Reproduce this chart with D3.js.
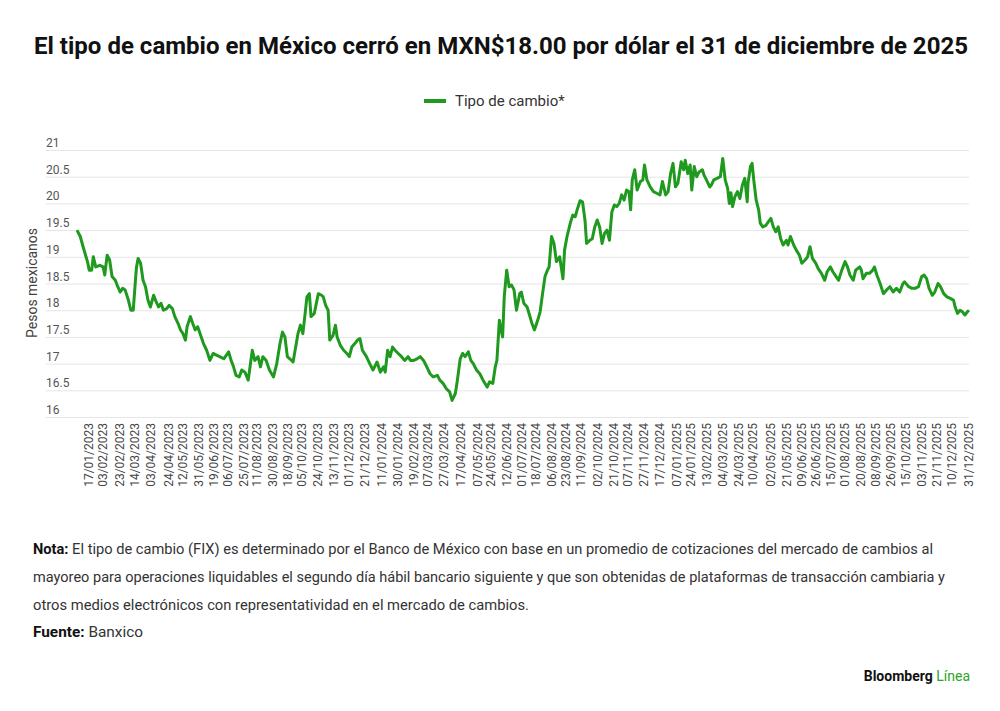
<!DOCTYPE html>
<html>
<head>
<meta charset="utf-8">
<script src="https://cdn.jsdelivr.net/npm/d3@7"></script>
<style>
  body { margin: 0; background: #fff; }
  svg { display: block; font-family: Roboto, "Noto Sans", sans-serif; }
</style>
</head>
<body>
<svg id="chart" width="1000" height="711"></svg>
<script>
// Tipo de cambio FIX (MXN por USD)
var fechas2023 = ['01-02','01-06','01-10','01-15','01-17','01-20','01-22','01-25','01-30','02-03','02-05','02-08','02-11','02-14','02-18','02-21','02-24','02-27','03-02','03-06','03-09','03-12','03-15','03-16','03-18','03-21','03-24','03-27','03-30','04-02','04-06','04-09','04-12','04-15','04-18','04-22','04-25','04-29','05-02','05-06','05-09','05-12','05-15','05-17','05-21','05-24','05-27','05-30','06-02','06-06','06-10','06-14','06-18','06-22','06-26','07-01','07-07','07-10','07-13','07-16','07-20','07-23','07-27','07-31','08-05','08-08','08-12','08-15','08-18','08-22','08-26','08-31','09-04','09-08','09-11','09-14','09-17','09-20','09-24','09-28','09-30','10-03','10-06','10-09','10-11','10-14','10-16','10-20','10-23','10-25','10-29','10-31','11-03','11-06','11-08','11-12','11-15','11-17','11-21','11-25','11-29','12-02','12-05','12-09','12-12','12-15','12-18','12-23','12-27','12-31'];
var valores2023 = [19.50,19.38,19.16,18.90,18.75,18.75,19.00,18.81,18.84,18.81,18.66,19.03,18.94,18.63,18.56,18.44,18.34,18.41,18.38,18.19,18.00,18.00,18.63,18.81,18.97,18.88,18.56,18.44,18.19,18.06,18.28,18.16,18.06,18.13,18.00,18.03,18.09,18.03,17.88,17.75,17.63,17.56,17.44,17.69,17.88,17.75,17.63,17.69,17.56,17.38,17.25,17.06,17.19,17.16,17.13,17.09,17.22,17.06,16.94,16.78,16.75,16.88,16.84,16.69,17.25,17.06,17.13,16.94,17.13,17.06,16.88,16.75,17.00,17.38,17.59,17.50,17.13,17.09,17.03,17.38,17.56,17.72,17.56,17.97,18.25,18.31,17.88,17.94,18.16,18.31,18.28,18.25,18.09,18.00,17.44,17.53,17.72,17.50,17.34,17.25,17.19,17.13,17.31,17.38,17.44,17.47,17.25,17.13,17.00,16.88];

var fechas2024 = ['01-05','01-09','01-13','01-15','01-18','01-21','01-24','01-27','01-31','02-04','02-08','02-12','02-15','02-19','02-23','02-27','03-02','03-06','03-10','03-14','03-19','03-22','03-26','03-30','04-03','04-06','04-10','04-12','04-16','04-19','04-22','04-26','04-29','05-02','05-06','05-10','05-14','05-19','05-22','05-26','05-29','05-31','06-03','06-05','06-07','06-09','06-12','06-15','06-18','06-21','06-24','06-28','06-30','07-03','07-07','07-10','07-13','07-16','07-20','07-23','07-26','07-29','08-01','08-03','08-06','08-09','08-12','08-16','08-20','08-22','08-25','08-29','09-01','09-04','09-07','09-10','09-13','09-16','09-18','09-22','09-25','09-28','10-01','10-04','10-07','10-10','10-13','10-16','10-19','10-22','10-25','10-28','10-31','11-03','11-06','11-09','11-11','11-13','11-16','11-19','11-23','11-26','11-28','12-01','12-05','12-09','12-13','12-17','12-20','12-24','12-27','12-30'];
var valores2024 = [17.03,16.84,16.94,16.84,17.25,17.13,17.31,17.25,17.19,17.13,17.06,17.13,17.06,17.06,17.09,17.13,17.06,16.94,16.81,16.75,16.78,16.69,16.63,16.53,16.47,16.31,16.44,16.63,17.09,17.19,17.13,17.22,17.06,17.00,16.88,16.81,16.69,16.56,16.66,16.63,16.94,17.06,17.81,17.63,17.50,18.25,18.75,18.44,18.47,18.38,18.00,18.31,18.34,18.13,18.06,17.91,17.75,17.63,17.81,17.97,18.31,18.63,18.75,18.81,19.38,19.25,18.91,19.00,18.59,19.13,19.38,19.63,19.78,19.75,19.91,20.05,20.03,19.69,19.25,19.31,19.34,19.56,19.69,19.56,19.25,19.44,19.50,19.31,19.84,19.97,19.94,20.00,20.16,20.06,20.25,20.22,19.88,20.44,20.63,20.25,20.41,20.44,20.72,20.44,20.31,20.22,20.19,20.16,20.41,20.16,20.22,20.56];

var fechas2025 = ['01-02','01-05','01-08','01-12','01-15','01-17','01-20','01-23','01-25','01-28','01-31','02-03','02-07','02-09','02-12','02-16','02-18','02-21','02-25','03-01','03-04','03-07','03-10','03-12','03-14','03-16','03-19','03-22','03-25','03-28','03-31','04-03','04-04','04-07','04-09','04-11','04-14','04-17','04-19','04-22','04-26','04-29','05-02','05-05','05-08','05-11','05-14','05-17','05-21','05-23','05-26','05-30','06-02','06-06','06-09','06-13','06-16','06-19','06-22','06-26','06-29','07-03','07-07','07-10','07-14','07-17','07-21','07-24','07-28','08-01','08-04','08-07','08-11','08-14','08-19','08-21','08-23','08-27','08-31','09-04','09-06','09-09','09-13','09-17','09-21','09-25','09-29','10-03','10-07','10-11','10-13','10-18','10-22','10-26','10-30','11-03','11-06','11-09','11-12','11-16','11-19','11-23','11-26','11-30','12-04','12-08','12-12','12-14','12-17','12-20','12-23','12-26','12-29','12-31'];
var valores2025 = [20.75,20.31,20.38,20.78,20.63,20.81,20.56,20.72,20.25,20.69,20.50,20.59,20.63,20.53,20.44,20.31,20.34,20.44,20.47,20.50,20.84,20.44,20.28,20.00,20.20,19.94,20.13,20.22,20.09,20.34,20.47,20.03,20.38,20.69,20.75,20.44,20.06,19.88,19.63,19.56,19.59,19.66,19.72,19.56,19.47,19.56,19.34,19.22,19.31,19.22,19.38,19.22,19.13,19.03,18.88,18.94,19.00,19.19,18.97,18.88,18.78,18.69,18.56,18.72,18.81,18.72,18.63,18.56,18.75,18.91,18.81,18.66,18.56,18.75,18.81,18.75,18.59,18.69,18.69,18.75,18.81,18.66,18.50,18.31,18.38,18.44,18.34,18.41,18.34,18.50,18.53,18.44,18.41,18.41,18.44,18.63,18.66,18.59,18.41,18.28,18.34,18.50,18.44,18.31,18.25,18.22,18.19,18.06,17.94,18.00,17.97,17.91,17.97,18.00];

// Etiquetas del eje X (como aparecen en el gráfico)
var etiquetasX = ['17/01/2023','03/02/2023','23/02/2023','14/03/2023','03/04/2023','24/04/2023','12/05/2023','31/05/2023','19/06/2023','06/07/2023','25/07/2023','11/08/2023','30/08/2023','18/09/2023','05/10/2023','24/10/2023','13/11/2023','01/12/2023','21/12/2023','11/01/2024','30/01/2024','19/02/2024','07/03/2024','27/03/2024','17/04/2024','07/05/2024','24/05/2024','12/06/2024','01/07/2024','18/07/2024','06/08/2024','23/08/2024','11/09/2024','02/10/2024','21/10/2024','07/11/2024','27/11/2024','17/12/2024','07/01/2025','24/01/2025','13/02/2025','04/03/2025','24/03/2025','10/04/2025','02/05/2025','21/05/2025','09/06/2025','26/06/2025','15/07/2025','01/08/2025','20/08/2025','08/09/2025','26/09/2025','15/10/2025','03/11/2025','21/11/2025','10/12/2025','31/12/2025'];
var ticksY = [16, 16.5, 17, 17.5, 18, 18.5, 19, 19.5, 20, 20.5, 21];

var verde = '#1f9a1f';
var parse = d3.timeParse('%Y-%m-%d');
var parseEtiqueta = d3.timeParse('%d/%m/%Y');

var data = [];
[[2023, fechas2023, valores2023], [2024, fechas2024, valores2024], [2025, fechas2025, valores2025]]
  .forEach(function(s) {
    s[1].forEach(function(f, i) {
      data.push({ fecha: parse(s[0] + '-' + f), valor: s[2][i] });
    });
  });

var svg = d3.select('#chart');
svg.append('rect').attr('width', 1000).attr('height', 711).attr('fill', '#fff');

var x = d3.scaleTime().domain(d3.extent(data, function(d) { return d.fecha; })).range([77, 969]);
var y = d3.scaleLinear().domain([16, 21]).range([417, 150]);

// Título
svg.append('text')
  .attr('x', 34).attr('y', 54)
  .attr('textLength', 934).attr('lengthAdjust', 'spacingAndGlyphs')
  .style('font-size', '23px').style('font-weight', 700).attr('fill', '#111')
  .text('El tipo de cambio en México cerró en MXN$18.00 por dólar el 31 de diciembre de 2025');

// Leyenda
svg.append('line')
  .attr('x1', 424).attr('x2', 446).attr('y1', 101).attr('y2', 101)
  .attr('stroke', verde).attr('stroke-width', 4);
svg.append('text')
  .attr('x', 455).attr('y', 106)
  .style('font-size', '15px').attr('fill', '#333')
  .text('Tipo de cambio*');

// Rejilla y etiquetas Y
var gy = svg.append('g');
gy.selectAll('line').data(ticksY).enter().append('line')
  .attr('x1', 46).attr('x2', 969)
  .attr('y1', function(d) { return y(d) + 0.5; })
  .attr('y2', function(d) { return y(d) + 0.5; })
  .attr('stroke', '#e5e5e5').attr('stroke-width', 1);
gy.selectAll('text').data(ticksY).enter().append('text')
  .attr('x', 46).attr('y', function(d) { return y(d) - 3; })
  .style('font-size', '12px').attr('fill', '#555')
  .text(function(d) { return d; });

svg.append('text')
  .attr('transform', 'translate(37,283) rotate(-90)')
  .attr('text-anchor', 'middle')
  .style('font-size', '14px').attr('fill', '#444')
  .text('Pesos mexicanos');

// Etiquetas X
svg.append('g').selectAll('text').data(etiquetasX).enter().append('text')
  .attr('transform', function(d) { return 'translate(' + x(parseEtiqueta(d)) + ',423) rotate(-90)'; })
  .attr('text-anchor', 'end').attr('dy', '0.35em')
  .style('font-size', '12px').attr('fill', '#444')
  .text(function(d) { return d; });

// Línea
var linea = d3.line()
  .x(function(d) { return x(d.fecha); })
  .y(function(d) { return y(d.valor); });

svg.append('path')
  .datum(data)
  .attr('d', linea)
  .attr('fill', 'none')
  .attr('stroke', verde)
  .attr('stroke-width', 3)
  .attr('stroke-linejoin', 'round');

// Nota y fuente
var nota = [
  { b: 'Nota: ', t: 'El tipo de cambio (FIX) es determinado por el Banco de México con base en un promedio de cotizaciones del mercado de cambios al', y: 554, w: 900 },
  { b: '', t: 'mayoreo para operaciones liquidables el segundo día hábil bancario siguiente y que son obtenidas de plataformas de transacción cambiaria y', y: 582, w: 912 },
  { b: '', t: 'otros medios electrónicos con representatividad en el mercado de cambios.', y: 610, w: 496 },
  { b: 'Fuente: ', t: 'Banxico', y: 637, w: 110 }
];
nota.forEach(function(n) {
  var t = svg.append('text')
    .attr('x', 33).attr('y', n.y)
    .attr('textLength', n.w).attr('lengthAdjust', 'spacingAndGlyphs')
    .style('font-size', '14px').attr('fill', '#333');
  if (n.b) t.append('tspan').style('font-weight', 700).attr('fill', '#111').text(n.b);
  t.append('tspan').text(n.t);
});

// Logo
var logo = svg.append('text')
  .attr('x', 970).attr('y', 681).attr('text-anchor', 'end')
  .style('font-size', '14px');
logo.append('tspan').style('font-weight', 700).attr('fill', '#111').text('Bloomberg ');
logo.append('tspan').attr('fill', '#2aa52a').text('Línea');
</script>
</body>
</html>
